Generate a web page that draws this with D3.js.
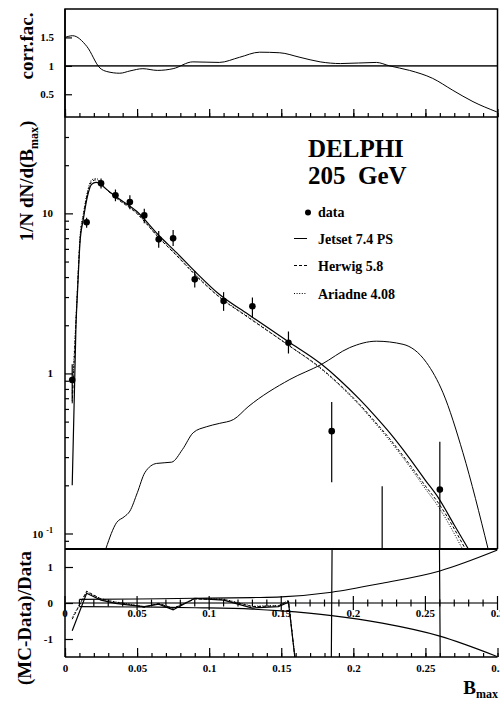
<!DOCTYPE html>
<html><head><meta charset="utf-8">
<script src="https://cdn.jsdelivr.net/npm/d3@7"></script>
<style>body{margin:0;background:#fff}svg{display:block}text{font-family:"Liberation Serif","Times New Roman",serif;font-weight:bold;fill:#000}</style>
</head><body><svg id="c" width="500" height="701"></svg>
<script>
// ---- data ----
const corrX = [0, 0.0053, 0.0152, 0.0243, 0.029, 0.038, 0.045, 0.054, 0.064, 0.075, 0.0887, 0.107, 0.121, 0.135, 0.149, 0.163, 0.177, 0.191, 0.216, 0.225, 0.239, 0.255, 0.269, 0.283, 0.2995];
const corrY = [1.50, 1.53, 1.34, 0.96, 0.90, 0.87, 0.91, 0.95, 0.92, 0.95, 1.07, 1.06, 1.15, 1.24, 1.23, 1.15, 1.07, 1.04, 1.06, 1.0, 0.92, 0.78, 0.57, 0.37, 0.19];

const dataX  = [0.005, 0.015, 0.025, 0.035, 0.045, 0.055, 0.065, 0.075, 0.09, 0.11, 0.13, 0.155, 0.185, 0.22, 0.26];
const dataY  = [0.91, 8.8, 15.4, 12.96, 11.77, 9.71, 6.88, 6.98, 3.87, 2.83, 2.63, 1.556, 0.436, 0.02, 0.188];
const dataLo = [0.67, 8.14, 14.3, 11.9, 10.6, 8.66, 6.1, 6.25, 3.44, 2.46, 2.22, 1.33, 0.209, 0.001, 0.001];
const dataHi = [1.14, 9.4, 16.5, 14.1, 12.96, 10.7, 7.75, 7.87, 4.36, 3.22, 2.98, 1.83, 0.662, 0.197, 0.374];

const jetsetX = [0.005, 0.0076, 0.0088, 0.0104, 0.0127, 0.0155, 0.0185, 0.0215, 0.0243, 0.0266, 0.035, 0.0497, 0.065, 0.0774, 0.09, 0.107, 0.127, 0.155, 0.178, 0.19, 0.2044, 0.215, 0.2253, 0.239, 0.25, 0.259, 0.27, 0.2796];
const jetsetY = [0.2, 1.97, 3.4, 6.56, 9.17, 12.7, 15.2, 15.6, 15.4, 14.7, 12.8, 10.3, 7.3, 5.68, 4.35, 3.12, 2.34, 1.58, 1.14, 0.92, 0.688, 0.543, 0.425, 0.295, 0.215, 0.167, 0.113, 0.0806];
const herwigX = [0.005, 0.0076, 0.0088, 0.0104, 0.0127, 0.0155, 0.0185, 0.0215, 0.0243, 0.0266, 0.035, 0.0497, 0.065, 0.0774, 0.09, 0.107, 0.127, 0.155, 0.178, 0.19, 0.2044, 0.215, 0.2253, 0.239, 0.25, 0.259, 0.2775];
const herwigY = [0.65, 2.1, 3.6, 6.9, 9.6, 13.2, 15.8, 16.2, 15.7, 14.8, 12.6, 10.0, 7.05, 5.45, 4.15, 3.0, 2.24, 1.5, 1.07, 0.86, 0.64, 0.5, 0.39, 0.27, 0.198, 0.155, 0.0806];
const ariadneX = [0.005, 0.0076, 0.0088, 0.0104, 0.0127, 0.0155, 0.0185, 0.0215, 0.0243, 0.0266, 0.035, 0.0497, 0.065, 0.0774, 0.09, 0.107, 0.127, 0.155, 0.178, 0.19, 0.2044, 0.215, 0.2253, 0.239, 0.25, 0.259, 0.2755];
const ariadneY = [0.75, 2.2, 3.7, 7.1, 9.9, 13.6, 16.2, 16.5, 15.9, 14.9, 12.7, 10.1, 7.1, 5.5, 4.2, 3.02, 2.26, 1.5, 1.06, 0.85, 0.63, 0.49, 0.38, 0.262, 0.19, 0.147, 0.0806];

const otherX = [0.0284, 0.0358, 0.041, 0.045, 0.0502, 0.0554, 0.0635, 0.074, 0.0815, 0.0889, 0.098, 0.107, 0.117, 0.127, 0.156, 0.178, 0.1975, 0.216, 0.2345, 0.2507, 0.2622, 0.276, 0.2934];
const otherY = [0.0806, 0.117, 0.127, 0.138, 0.18, 0.24, 0.274, 0.279, 0.335, 0.426, 0.464, 0.487, 0.516, 0.619, 0.917, 1.14, 1.45, 1.59, 1.52, 1.17, 0.757, 0.32, 0.0806];

const ratioX = [0.005, 0.015, 0.025, 0.035, 0.045, 0.055, 0.065, 0.075, 0.09, 0.11, 0.13, 0.148, 0.155, 0.16, 0.184, 0.186, 0.259, 0.261];
const ratioJetset  = [-0.77, 0.27, 0.08, -0.01, -0.06, -0.1, -0.03, -0.19, 0.13, 0.08, -0.14, -0.1, 0.02, -1.7, -6, 6, 6, -6];
const ratioHerwig  = [-0.45, 0.33, 0.11, 0.02, -0.04, -0.12, -0.01, -0.15, 0.11, 0.1, -0.1, -0.08, 0.06, -1.7];
const ratioAriadne = [-0.4, 0.3, 0.12, 0.03, -0.03, -0.11, -0.02, -0.14, 0.12, 0.11, -0.09, -0.07, 0.07, -1.7];

const bandX  = [0.01, 0.05, 0.09, 0.13, 0.15, 0.185, 0.22, 0.26, 0.3];
const bandHi = [0.1, 0.11, 0.13, 0.15, 0.17, 0.3, 0.55, 0.89, 1.47];
const bandLo = [-0.1, -0.11, -0.13, -0.17, -0.22, -0.35, -0.56, -0.92, -1.49];

const xMajor = [0, 0.05, 0.1, 0.15, 0.2, 0.25, 0.3];
const corrTicks = [0.5, 1, 1.5];
const ratioTicks = [-1, 0, 1];
const legendNames = ["data", "Jetset 7.4 PS", "Herwig 5.8", "Ariadne 4.08"];

// ---- scales ----
const svg = d3.select("#c");
const L = 65, R = 497.5;
const x = d3.scaleLinear().domain([0, 0.3]).range([L, R]);
const yTop = d3.scaleLinear().domain([0.1, 2.0]).range([117, 9]);
const yMain = d3.scaleLog().domain([0.08, 40]).range([549, 117]);
const yBot = d3.scaleLinear().domain([-1.5, 1.5]).range([657, 549]);
const xMinor = d3.range(0, 0.3001, 0.01).map(v => +v.toFixed(2));
const fmtX = d => String(+d.toFixed(2));

const defs = svg.append("defs");
function clip(id, y0, y1) {
  defs.append("clipPath").attr("id", id).append("rect").attr("x", L).attr("y", y0).attr("width", R - L).attr("height", y1 - y0);
}
clip("cTop", 9, 117); clip("cMain", 117, 549); clip("cBot", 549, 657);

function styleAxis(g, w) {
  g.select(".domain").remove();
  g.selectAll("line").attr("stroke", "#000").attr("stroke-width", w || 1.2);
  g.selectAll("text").attr("font-size", 11).attr("font-family", '"Liberation Serif",serif').attr("font-weight", "bold");
}
const lineXY = (xs, ys, ysc, curve) => d3.line().x((d, i) => x(xs[i])).y((d, i) => ysc(ys[i])).curve(curve || d3.curveMonotoneX)(ys);

// ---- top panel ----
svg.append("line").attr("x1", L).attr("x2", R).attr("y1", yTop(1)).attr("y2", yTop(1)).attr("stroke", "#333").attr("stroke-width", 1.6);
svg.append("path").attr("clip-path", "url(#cTop)").attr("d", lineXY(corrX, corrY, yTop)).attr("fill", "none").attr("stroke", "#000").attr("stroke-width", 1);
svg.append("g").attr("transform", `translate(${L},0)`).call(d3.axisLeft(yTop).tickValues(corrTicks).tickSize(-7).tickPadding(11).tickFormat(d => String(d))).call(g => styleAxis(g));
svg.append("g").attr("transform", `translate(0,117)`).call(d3.axisTop(x).tickValues(xMinor).tickSize(4).tickFormat("")).call(g => styleAxis(g));
svg.append("g").attr("transform", `translate(0,117)`).call(d3.axisTop(x).tickValues(xMajor).tickSize(8).tickFormat("")).call(g => styleAxis(g));
svg.append("rect").attr("x", L).attr("y", 9).attr("width", R - L).attr("height", 108).attr("fill", "none").attr("stroke", "#000").attr("stroke-width", 1.5);
svg.append("text").attr("transform", "translate(33,46) rotate(-90)").attr("text-anchor", "middle").attr("font-size", 19).text("corr.fac.");

// ---- main panel ----
const mg = svg.append("g").attr("clip-path", "url(#cMain)");
mg.append("path").attr("d", lineXY(otherX, otherY, yMain)).attr("fill", "none").attr("stroke", "#000").attr("stroke-width", 1);
mg.append("path").attr("d", lineXY(ariadneX, ariadneY, yMain)).attr("fill", "none").attr("stroke", "#000").attr("stroke-width", 1).attr("stroke-dasharray", "1,1.6");
mg.append("path").attr("d", lineXY(herwigX, herwigY, yMain)).attr("fill", "none").attr("stroke", "#000").attr("stroke-width", 1).attr("stroke-dasharray", "3,2");
mg.append("path").attr("d", lineXY(jetsetX, jetsetY, yMain)).attr("fill", "none").attr("stroke", "#000").attr("stroke-width", 1.2);
dataX.forEach((dx, i) => {
  mg.append("line").attr("x1", x(dx)).attr("x2", x(dx)).attr("y1", yMain(dataLo[i])).attr("y2", yMain(dataHi[i])).attr("stroke", "#000").attr("stroke-width", 1.2);
  mg.append("circle").attr("cx", x(dx)).attr("cy", yMain(dataY[i])).attr("r", 3.3).attr("fill", "#000");
});
const logMinor = [0.09, 0.2, 0.3, 0.4, 0.5, 0.6, 0.7, 0.8, 0.9, 2, 3, 4, 5, 6, 7, 8, 9, 20, 30];
svg.append("g").attr("transform", `translate(${L},0)`).call(d3.axisLeft(yMain).tickValues(logMinor).tickSize(-4).tickFormat("")).call(g => styleAxis(g));
const mAx = svg.append("g").attr("transform", `translate(${L},0)`).call(d3.axisLeft(yMain).tickValues([0.1, 1, 10]).tickSize(-8).tickPadding(12).tickFormat(d => d === 0.1 ? "" : String(d))).call(g => styleAxis(g));
mAx.selectAll(".tick").filter(d => d === 0.1).select("text").call(t => {
  t.append("tspan").text("10");
  t.append("tspan").attr("font-size", 8).attr("dy", "-0.6em").attr("dx", "3").text("-1");
});
svg.append("line").attr("x1", L).attr("x2", L).attr("y1", 9).attr("y2", 657).attr("stroke", "#000").attr("stroke-width", 1.5);
svg.append("line").attr("x1", R).attr("x2", R).attr("y1", 117).attr("y2", 549).attr("stroke", "#000").attr("stroke-width", 1.5);
svg.append("line").attr("x1", L).attr("x2", R).attr("y1", 549).attr("y2", 549).attr("stroke", "#000").attr("stroke-width", 1.8);
const yl = svg.append("text").attr("transform", "translate(33,181) rotate(-90)").attr("text-anchor", "middle").attr("font-size", 19);
yl.append("tspan").text("1/N dN/d(B");
yl.append("tspan").attr("font-size", 12).attr("dy", "5").text("max");
yl.append("tspan").attr("dy", "-5").text(")");

svg.append("text").attr("x", 308).attr("y", 157).attr("font-size", 25).text("DELPHI");
svg.append("text").attr("x", 308).attr("y", 184).attr("font-size", 25).attr("xml:space", "preserve").style("white-space", "pre").text("205  GeV");
const legY = [217, 244, 271, 299];
svg.append("circle").attr("cx", 308).attr("cy", legY[0] - 4.5).attr("r", 3).attr("fill", "#000");
const legDash = [null, null, "3,2", "1,1.6"];
[1, 2, 3].forEach(i => {
  svg.append("line").attr("x1", 294).attr("x2", 307).attr("y1", legY[i] - 5.5).attr("y2", legY[i] - 5.5).attr("stroke", "#000").attr("stroke-width", 1).attr("stroke-dasharray", legDash[i]);
});
legendNames.forEach((n, i) => svg.append("text").attr("x", 318).attr("y", legY[i]).attr("font-size", 14).text(n));

// ---- bottom panel ----
const bg = svg.append("g").attr("clip-path", "url(#cBot)");
bg.append("line").attr("x1", L).attr("x2", R).attr("y1", yBot(0)).attr("y2", yBot(0)).attr("stroke", "#444").attr("stroke-width", 1.6);
bg.append("path").attr("d", lineXY(bandX, bandHi, yBot)).attr("fill", "none").attr("stroke", "#000").attr("stroke-width", 1.1);
bg.append("path").attr("d", lineXY(bandX, bandLo, yBot)).attr("fill", "none").attr("stroke", "#000").attr("stroke-width", 1.1);
bg.append("path").attr("d", lineXY(ratioX.slice(0, ratioAriadne.length), ratioAriadne, yBot, d3.curveLinear)).attr("fill", "none").attr("stroke", "#000").attr("stroke-width", 1).attr("stroke-dasharray", "1,1.6");
bg.append("path").attr("d", lineXY(ratioX.slice(0, ratioHerwig.length), ratioHerwig, yBot, d3.curveLinear)).attr("fill", "none").attr("stroke", "#000").attr("stroke-width", 1).attr("stroke-dasharray", "3,2");
bg.append("path").attr("d", lineXY(ratioX, ratioJetset, yBot, d3.curveLinear)).attr("fill", "none").attr("stroke", "#000").attr("stroke-width", 1.2);
// middle axis at 0
xMinor.forEach(v => {
  const big = xMajor.some(m => Math.abs(m - v) < 1e-9);
  svg.append("line").attr("x1", x(v)).attr("x2", x(v)).attr("y1", yBot(0) - (big ? 7 : 3.5)).attr("y2", yBot(0) + (big ? 7 : 3.5)).attr("stroke", "#000").attr("stroke-width", 1.2);
});
xMajor.forEach(v => svg.append("text").attr("x", x(v)).attr("y", yBot(0) + 14).attr("text-anchor", "middle").attr("font-size", 11).text(fmtX(v)));
svg.append("g").attr("transform", `translate(${L},0)`).call(d3.axisLeft(yBot).tickValues(ratioTicks).tickSize(-8).tickPadding(12).tickFormat(d => String(d))).call(g => styleAxis(g));
svg.append("g").attr("transform", `translate(0,657)`).call(d3.axisBottom(x).tickValues(xMinor).tickSize(-4).tickFormat("")).call(g => styleAxis(g));
svg.append("g").attr("transform", `translate(0,657)`).call(d3.axisBottom(x).tickValues(xMajor).tickSize(-9).tickPadding(7).tickFormat(fmtX)).call(g => styleAxis(g));
svg.append("line").attr("x1", L).attr("x2", R).attr("y1", 657).attr("y2", 657).attr("stroke", "#000").attr("stroke-width", 1.5);
svg.append("text").attr("transform", "translate(31,618) rotate(-90)").attr("text-anchor", "middle").attr("font-size", 19).text("(MC-Data)/Data");
const xl = svg.append("text").attr("x", 498).attr("y", 694).attr("text-anchor", "end").attr("font-size", 19);
xl.append("tspan").text("B");
xl.append("tspan").attr("font-size", 12).attr("dy", "4").text("max");
</script></body></html>
